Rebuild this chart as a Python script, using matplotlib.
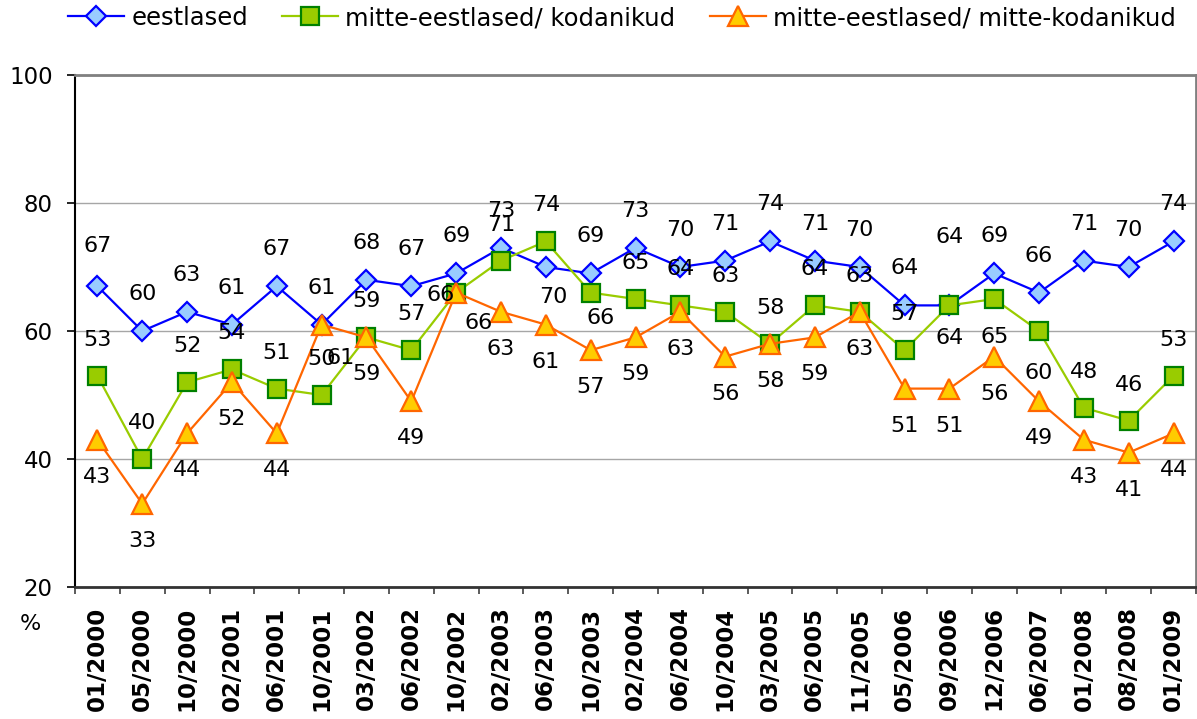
import matplotlib
matplotlib.use("Agg")
import matplotlib.pyplot as plt
from matplotlib.ticker import FixedLocator, NullFormatter

plt.rcParams['font.family'] = ['DejaVu Sans']

categories = ["01/2000", "05/2000", "10/2000", "02/2001", "06/2001", "10/2001",
              "03/2002", "06/2002", "10/2002", "02/2003", "06/2003", "10/2003",
              "02/2004", "06/2004", "10/2004", "03/2005", "06/2005", "11/2005",
              "05/2006", "09/2006", "12/2006", "06/2007", "01/2008", "08/2008",
              "01/2009"]

eestlased = [67, 60, 63, 61, 67, 61, 68, 67, 69, 73, 70, 69, 73, 70, 71, 74,
             71, 70, 64, 64, 69, 66, 71, 70, 74]
kodanikud = [53, 40, 52, 54, 51, 50, 59, 57, 66, 71, 74, 66, 65, 64, 63, 58,
             64, 63, 57, 64, 65, 60, 48, 46, 53]
mitte_kodanikud = [43, 33, 44, 52, 44, 61, 59, 49, 66, 63, 61, 57, 59, 63, 56,
                   58, 59, 63, 51, 51, 56, 49, 43, 41, 44]

series_names = ["eestlased", "mitte-eestlased/ kodanikud",
                "mitte-eestlased/ mitte-kodanikud"]
yticks = [20, 40, 60, 80, 100]

W, H = 1197, 719
fig = plt.figure(figsize=(W / 100, H / 100), dpi=100)
ax = fig.add_axes([75 / W, 1 - 587 / H, (1196 - 75) / W, (587 - 75) / H])

x = list(range(len(categories)))

styles = [
    dict(color="#0000FF", marker="D", markersize=10, markerfacecolor="#99CCFF",
         markeredgecolor="#0000FF", markeredgewidth=1.6, linewidth=1.6),
    dict(color="#99CC00", marker="s", markersize=13, markerfacecolor="#99CC00",
         markeredgecolor="#008000", markeredgewidth=1.6, linewidth=1.6),
    dict(color="#FF6600", marker="^", markersize=14, markerfacecolor="#FFCC00",
         markeredgecolor="#FF6600", markeredgewidth=1.6, linewidth=1.6),
]
all_series = [eestlased, kodanikud, mitte_kodanikud]

# default label offset in image pixels (dx, dy; dy positive = downward)
default_off = [(0, -37), (0, -36), (0, 37)]
overrides = {
    (0, 10): (7, 30),
    (0, 19): (0, -68),
    (0, 0): (0, -40),
    (1, 8): (-16, 2),
    (1, 11): (10, 25),
    (1, 19): (0, 33),
    (1, 20): (0, 38),
    (1, 21): (0, 42),
    (2, 5): (19, 33),
    (2, 8): (22, 30),
}

handles = []
for si, (vals, st, name) in enumerate(zip(all_series, styles, series_names)):
    h, = ax.plot(x, vals, label=name, zorder=3 + si, clip_on=False, **st)
    handles.append(h)
    for i, v in enumerate(vals):
        dx, dy = overrides.get((si, i), default_off[si])
        ax.annotate(f"{v}", (i, v), xytext=(dx, -dy), textcoords="offset pixels",
                    ha="center", va="center", fontsize=16, color="black",
                    zorder=10)

ax.set_xlim(-0.5, len(categories) - 0.5)
ax.set_ylim(20, 100)
ax.set_yticks(yticks)
ax.set_yticklabels([str(t) for t in yticks], fontsize=16.5)
ax.grid(axis="y", color="#A6A6A6", linewidth=1.0)
ax.set_axisbelow(True)

ax.set_xticks(x)
ax.set_xticklabels(categories, rotation=90, fontsize=16.5, fontweight="bold")
ax.xaxis.set_minor_locator(FixedLocator([i - 0.5 for i in range(len(categories) + 1)]))
ax.xaxis.set_minor_formatter(NullFormatter())
ax.tick_params(axis="x", which="major", length=0, pad=14)
ax.tick_params(axis="x", which="minor", length=5, width=1.2, color="#404040")
ax.tick_params(axis="y", which="major", length=6, width=1.2, pad=10)

for side in ["top", "right"]:
    ax.spines[side].set_color("#808080")
    ax.spines[side].set_linewidth(2)
ax.spines["left"].set_color("black")
ax.spines["left"].set_linewidth(1.5)
ax.spines["bottom"].set_color("#333333")
ax.spines["bottom"].set_linewidth(2)

fig.text(30 / W, 1 - 624 / H, "%", fontsize=16, ha="center", va="center")

fig.legend(handles=handles, loc="center", bbox_to_anchor=(622 / W, 1 - 18 / H),
           ncol=3, frameon=False, fontsize=17.5, handlelength=2.3,
           handletextpad=0.3, columnspacing=1.4, borderaxespad=0)

fig.savefig("out.png", dpi=100)
